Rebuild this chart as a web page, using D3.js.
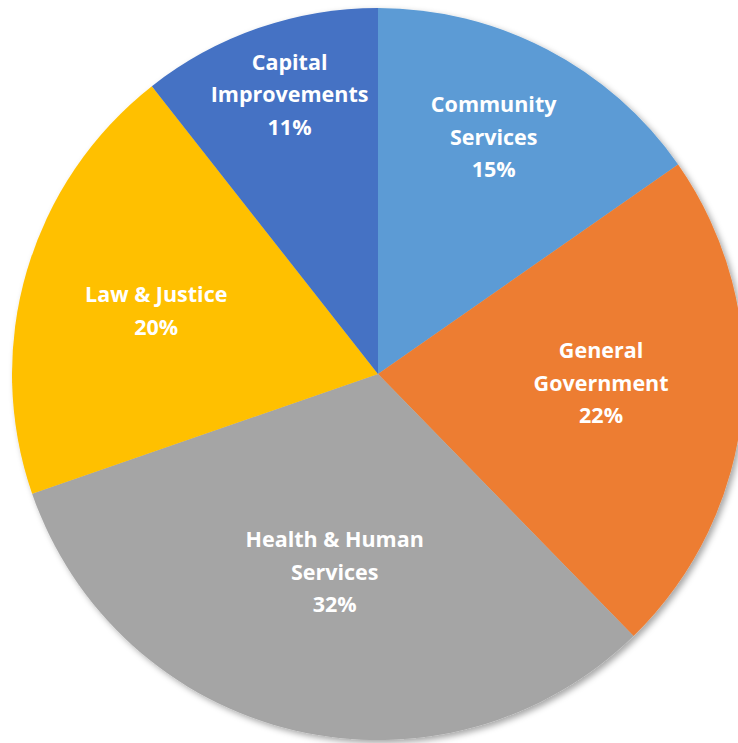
<!DOCTYPE html>
<html>
<head>
<meta charset="utf-8">
<script src="https://cdn.jsdelivr.net/npm/d3@7"></script>
<style>
  html, body { margin: 0; padding: 0; background: #ffffff; overflow: hidden; }
  svg { display: block; }
  .slice-label { font-family: "Open Sans", "Noto Sans", sans-serif; font-weight: 700; fill: #ffffff; }
</style>
</head>
<body>
<svg id="chart"></svg>
<script>
// Budget share by service area, clockwise from 12 o'clock
const categories = ["Community Services", "General Government", "Health & Human Services", "Law & Justice", "Capital Improvements"];
const labelLines = [["Community", "Services"], ["General", "Government"], ["Health & Human", "Services"], ["Law & Justice"], ["Capital", "Improvements"]];
const shares = [15.3, 22.4, 32.0, 19.7, 10.6];
const colors = ["#5B9BD5", "#ED7D31", "#A5A5A5", "#FFC000", "#4472C4"];

// label placement: distance from the centre (fraction of radius) and angle nudge (degrees)
const labelRadiusFrac = [0.72, 0.61, 0.555, 0.63, 0.80];
const labelAngleNudge = [-1.5, -3, -1, -0.5, 1.5];

const width = 738, height = 743;
const cx = 378, cy = 374, radius = 366;
const fontSize = 21.5, lineHeight = 32.5;

const svg = d3.select("#chart").attr("width", width).attr("height", height);

const defs = svg.append("defs");
const shadow = defs.append("filter").attr("id", "pieShadow")
  .attr("x", "-10%").attr("y", "-10%").attr("width", "120%").attr("height", "120%");
shadow.append("feDropShadow")
  .attr("dx", 3).attr("dy", 3).attr("stdDeviation", 3)
  .attr("flood-color", "#000").attr("flood-opacity", 0.35);

const total = d3.sum(shares);
const data = categories.map((c, i) => ({ name: c, value: shares[i], lines: labelLines[i], color: colors[i], i }));

const pie = d3.pie().value(d => d.value).sort(null);
const arcs = pie(data);
const arc = d3.arc().innerRadius(0).outerRadius(radius);

const g = svg.append("g").attr("transform", `translate(${cx},${cy})`);

g.append("g").attr("filter", "url(#pieShadow)")
  .selectAll("path")
  .data(arcs)
  .join("path")
  .attr("d", arc)
  .attr("fill", d => d.data.color);

const labels = g.append("g").selectAll("text")
  .data(arcs)
  .join("text")
  .attr("class", "slice-label")
  .attr("font-size", fontSize)
  .attr("text-anchor", "middle")
  .attr("transform", d => {
    const i = d.data.i;
    const r = radius * labelRadiusFrac[i];
    const a = (d.startAngle + d.endAngle) / 2 + labelAngleNudge[i] * Math.PI / 180;
    return `translate(${r * Math.sin(a)},${-r * Math.cos(a)})`;
  });

labels.each(function(d) {
  const lines = d.data.lines.concat([Math.round(d.data.value / total * 100) + "%"]);
  const t = d3.select(this);
  const n = lines.length;
  lines.forEach((s, k) => {
    t.append("tspan")
      .attr("x", 0)
      .attr("y", (k - (n - 1) / 2) * lineHeight)
      .attr("dy", "0.35em")
      .text(s);
  });
});
</script>
</body>
</html>
